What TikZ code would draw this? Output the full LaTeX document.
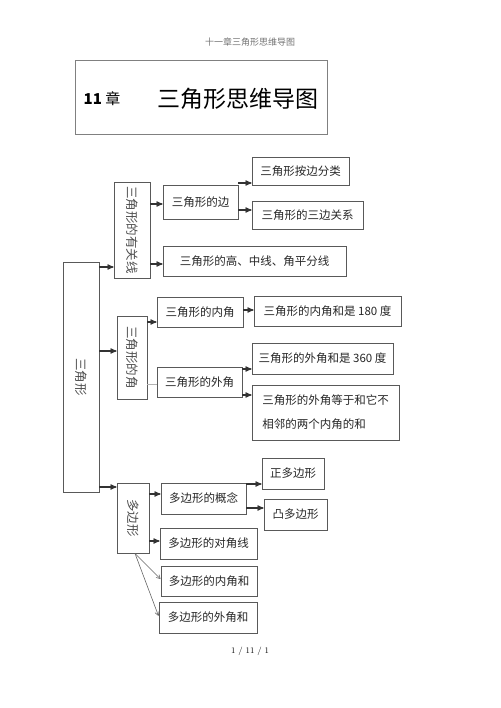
\documentclass[tikz,border=0pt]{standalone}
\usepackage{fontspec}
\newfontfamily\cjk{Noto Sans CJK SC}
\usetikzlibrary{arrows}

\tikzset{
  box/.style={draw=black!65, line width=0.9pt, inner sep=2pt, text=black!85, font=\cjk\fontsize{11.5}{14}\selectfont},
  vbox/.style={box, text=black!70, font=\cjk\fontsize{12.5}{14}\selectfont},
  arr/.style={->, >=stealth', line width=1.2pt, draw=black!80},
  thinarr/.style={->, >=angle 60, line width=0.6pt, draw=black!60},
}

\begin{document}
\begin{tikzpicture}[x=1pt,y=-1pt]
\useasboundingbox (0,0) rectangle (500,708);
% header and title
\node[font=\cjk\fontsize{9}{10}\selectfont, text=black!55] (head) at (250,42) {十一章三角形思维导图};
\node[draw=black!50, line width=0.9pt, minimum width=252pt, minimum height=74pt] (title) at (201,97) {};
\node[font=\cjk\fontsize{15}{16}\selectfont] (num) at (102,99) {\textbf{11} 章};
\node[font=\cjk\fontsize{23}{24}\selectfont] (ttl) at (238,99) {三角形思维导图};
% left column
\node[vbox, minimum width=36pt, minimum height=230pt] (san) at (81,377) {\rotatebox{-90}{三角形}};
\node[vbox, minimum width=36pt, minimum height=96pt] (yg) at (132,230) {\rotatebox{-90}{三角形的有关线}};
\node[vbox, minimum width=30pt, minimum height=83pt] (jiao) at (132,357.5) {\rotatebox{-90}{三角形的角}};
\node[vbox, minimum width=32pt, minimum height=70pt] (dbx) at (133,518) {\rotatebox{-90}{多边形}};
% lines
\node[box, minimum width=75pt, minimum height=34pt] (bian) at (200.5,202) {三角形的边};
\node[box, minimum width=97pt, minimum height=28pt] (fenlei) at (300.5,171) {三角形按边分类};
\node[box, minimum width=111pt, minimum height=28pt] (guanxi) at (307.5,215) {三角形的三边关系};
\node[box, minimum width=183pt, minimum height=30pt] (gao) at (254.5,261) {三角形的高、中线、角平分线};
% angles
\node[box, minimum width=86pt, minimum height=30pt] (nei) at (200,312) {三角形的内角};
\node[box, minimum width=147pt, minimum height=30pt] (nei180) at (327.5,311) {三角形的内角和是 180 度};
\node[box, minimum width=85pt, minimum height=30pt] (wai) at (199.5,382) {三角形的外角};
\node[box, minimum width=141pt, minimum height=31pt] (wai360) at (322.5,358.5) {三角形的外角和是 360 度};
\node[box, minimum width=147pt, minimum height=55pt, align=left] (waideng) at (325.5,412.5) {三角形的外角等于和它不\\[10pt]相邻的两个内角的和};
% polygons
\node[box, minimum width=85pt, minimum height=31pt] (gainian) at (203.5,498.5) {多边形的概念};
\node[box, minimum width=62pt, minimum height=31pt] (zheng) at (293,473.5) {正多边形};
\node[box, minimum width=63pt, minimum height=31pt] (tu) at (295.5,514.5) {凸多边形};
\node[box, minimum width=97pt, minimum height=31pt] (duijiao) at (208.5,543.5) {多边形的对角线};
\node[box, minimum width=96pt, minimum height=30pt] (neihe) at (209,581) {多边形的内角和};
\node[box, minimum width=98pt, minimum height=31pt] (waihe) at (208,617.5) {多边形的外角和};
% footer
\node[font=\fontsize{8.5}{10}\selectfont] (foot) at (250,651) {1 / 11 / 1};

\draw[arr] (san.east |- 0,267) -- (yg.west |- 0,267);
\draw[arr] (san.east |- 0,351) -- (jiao.west |- 0,351);
\draw[arr] (san.east |- 0,487) -- (dbx.west |- 0,487);
\draw[arr] (yg.east |- 0,204) -- (bian.west |- 0,204);
\draw[arr] (yg.east |- 0,264) -- (gao.west |- 0,264);
\draw[arr] (bian.east |- 0,183) -- (fenlei.west |- 0,183);
\draw[arr] (bian.east |- 0,210) -- (guanxi.west |- 0,210);
\draw[arr] (jiao.east |- 0,322) -- (nei.west |- 0,322);
\draw[black!30, line width=0.5pt] (jiao.east |- 0,384) -- (wai.west |- 0,384);
\draw[arr] (nei.east |- 0,310) -- (nei180.west |- 0,310);
\draw[arr] (wai.east |- 0,369) -- (wai360.west |- 0,369);
\draw[arr] (wai.east |- 0,395) -- (waideng.west |- 0,395);
\draw[arr] (dbx.east |- 0,494) -- (gainian.west |- 0,494);
\draw[arr] (gainian.east |- 0,484) -- (zheng.west |- 0,484);
\draw[arr] (gainian.east |- 0,508) -- (tu.west |- 0,508);
\draw[arr] (dbx.east |- 0,541) -- (duijiao.west |- 0,541);
\draw[thinarr] ([xshift=2pt]dbx.south) -- (neihe.west |- 0,579);
\draw[thinarr] ([xshift=2pt]dbx.south) -- (waihe.west |- 0,616);
\end{tikzpicture}
\end{document}
